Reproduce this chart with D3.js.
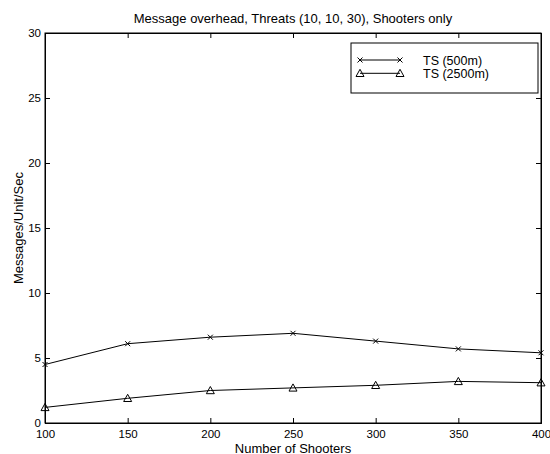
<!DOCTYPE html>
<html>
<head>
<meta charset="utf-8">
<script src="https://cdn.jsdelivr.net/npm/d3@7"></script>
<style>
  body { margin: 0; background: #fff; }
  text { font-family: "Liberation Sans", Arial, sans-serif; fill: #000; }
</style>
</head>
<body>
<div id="chart"></div>
<script>
// data
const shooters = [100, 150, 200, 250, 300, 350, 400]
const ts500 = [4.5, 6.1, 6.6, 6.9, 6.3, 5.7, 5.4]
const ts2500 = [1.2, 1.9, 2.5, 2.7, 2.9, 3.2, 3.1]
const xTicks = [100, 150, 200, 250, 300, 350, 400]
const yTicks = [0, 5, 10, 15, 20, 25, 30]
const seriesNames = ["TS (500m)", "TS (2500m)"]

const W = 550, H = 454
const margin = { top: 33, right: 9, bottom: 31, left: 45 }
const width = W - margin.left - margin.right
const height = H - margin.top - margin.bottom

const svg = d3.select("#chart").append("svg")
  .attr("width", W)
  .attr("height", H)

const g = svg.append("g")
  .attr("transform", "translate(" + margin.left + "," + margin.top + ")")

const x = d3.scaleLinear().domain([100, 400]).range([0, width])
const y = d3.scaleLinear().domain([0, 30]).range([height, 0])

// axes with inward ticks, matlab style
const tickLen = 5
g.append("g")
  .attr("transform", "translate(0," + height + ")")
  .call(d3.axisBottom(x).tickValues(xTicks).tickSize(-tickLen).tickPadding(6.5).tickFormat(d3.format("d")))
g.append("g")
  .call(d3.axisTop(x).tickValues(xTicks).tickSize(-tickLen).tickFormat(""))
g.append("g")
  .call(d3.axisLeft(y).tickValues(yTicks).tickSize(-tickLen).tickPadding(4).tickFormat(d3.format("d")))
g.append("g")
  .attr("transform", "translate(" + width + ",0)")
  .call(d3.axisRight(y).tickValues(yTicks).tickSize(-tickLen).tickFormat(""))

g.selectAll(".domain").attr("stroke", "#000").attr("stroke-width", 1)
g.selectAll(".tick line").attr("stroke", "#000")
g.selectAll(".tick text").attr("font-size", 11.5).style("font-family", "Liberation Sans, Arial, sans-serif")

// frame
g.append("rect")
  .attr("width", width).attr("height", height)
  .attr("fill", "none").attr("stroke", "#000")

const line = d3.line()
  .x((d, i) => x(shooters[i]))
  .y((d) => y(d))

function drawCross(sel, cx, cy) {
  const s = 2.5
  sel.append("path")
    .attr("d", "M" + (cx - s) + "," + (cy - s) + "L" + (cx + s) + "," + (cy + s) +
      "M" + (cx - s) + "," + (cy + s) + "L" + (cx + s) + "," + (cy - s))
    .attr("stroke", "#000").attr("stroke-width", 1).attr("fill", "none")
}

function drawTriangle(sel, cx, cy) {
  const s = 4
  sel.append("path")
    .attr("d", "M" + cx + "," + (cy - s) + "L" + (cx + s) + "," + (cy + s * 0.8) +
      "L" + (cx - s) + "," + (cy + s * 0.8) + "Z")
    .attr("stroke", "#000").attr("stroke-width", 1).attr("fill", "none")
}

// lines
g.append("path").datum(ts500).attr("d", line)
  .attr("fill", "none").attr("stroke", "#000").attr("stroke-width", 1)
g.append("path").datum(ts2500).attr("d", line)
  .attr("fill", "none").attr("stroke", "#000").attr("stroke-width", 1)

// markers
const markers = g.append("g")
ts500.forEach((d, i) => drawCross(markers, x(shooters[i]), y(d)))
ts2500.forEach((d, i) => drawTriangle(markers, x(shooters[i]), y(d)))

// legend
const legend = g.append("g")
  .attr("transform", "translate(" + (width - 190) + ",10)")
legend.append("rect")
  .attr("width", 187).attr("height", 50)
  .attr("fill", "#fff").attr("stroke", "#000")
const entries = [drawCross, drawTriangle]
entries.forEach((draw, i) => {
  const ly = 17 + i * 13.3
  legend.append("line")
    .attr("x1", 9).attr("x2", 49).attr("y1", ly).attr("y2", ly)
    .attr("stroke", "#000")
  draw(legend, 9, ly)
  draw(legend, 49, ly)
  legend.append("text")
    .attr("x", 72).attr("y", ly + 4.5)
    .attr("font-size", 12.5)
    .text(seriesNames[i])
})

// title and axis labels
svg.append("text")
  .attr("x", margin.left + width / 2).attr("y", 23)
  .attr("text-anchor", "middle").attr("font-size", 13)
  .text("Message overhead, Threats (10, 10, 30), Shooters only")
svg.append("text")
  .attr("x", margin.left + width / 2).attr("y", 452.5)
  .attr("text-anchor", "middle").attr("font-size", 13)
  .text("Number of Shooters")
svg.append("text")
  .attr("transform", "translate(23," + (margin.top + height / 2) + ") rotate(-90)")
  .attr("text-anchor", "middle").attr("font-size", 13)
  .text("Messages/Unit/Sec")
</script>
</body>
</html>
